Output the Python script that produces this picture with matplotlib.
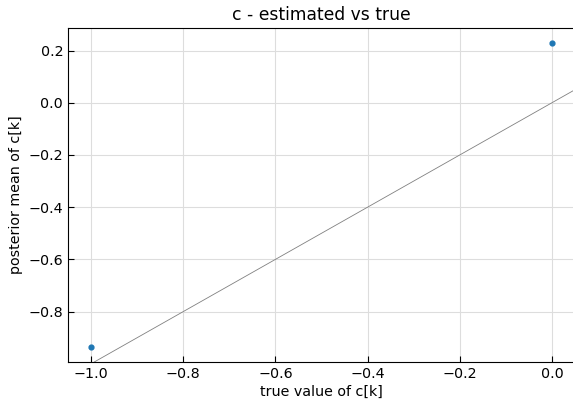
import matplotlib
matplotlib.use("Agg")
import matplotlib.pyplot as plt

# true vs estimated values of c[k]
c_true = [-1.0, 0.0]
c_est = [-0.935, 0.228]

fig = plt.figure(figsize=(5.73, 4.01), dpi=100)
ax = fig.add_axes([0.1187, 0.0973, 0.8848, 0.8327])

ax.scatter(c_true, c_est, s=12, color='tab:blue', zorder=3)
ax.set_xlim(-1.05, 0.05)
ax.set_ylim(-0.993, 0.286)
ax.axline((0, 0), slope=1, color='gray', linewidth=0.6)

ax.grid(True, color='#dddddd', linewidth=0.8)
ax.set_axisbelow(True)
ax.tick_params(direction='in', labelsize=10.3, length=4)
ax.set_xlabel('true value of c[k]', fontsize=10.3, labelpad=3)
ax.set_ylabel('posterior mean of c[k]', fontsize=10.3)
ax.set_title('c - estimated vs true', fontsize=12.3)

fig.savefig('out.png', dpi=100)
